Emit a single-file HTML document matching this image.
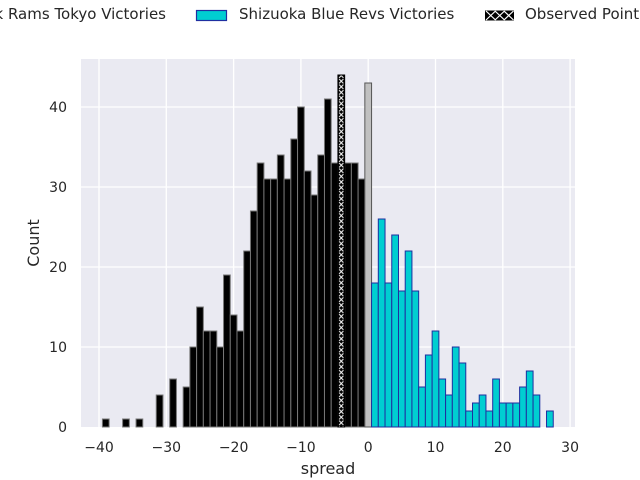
<!DOCTYPE html>
<html><head><meta charset="utf-8"><style>
html,body{margin:0;padding:0;background:#fff;}
svg{display:block;font-family:"DejaVu Sans","Liberation Sans",sans-serif;}
</style></head><body>
<svg width="640" height="480" viewBox="0 0 640 480" xmlns="http://www.w3.org/2000/svg">
<defs>
<pattern id="h" x="337.92" y="0" width="6.729" height="5.6" patternUnits="userSpaceOnUse">
<rect width="6.729" height="5.6" fill="#000"/>
<path d="M1.2,0.6 L5.5,5 M5.5,0.6 L1.2,5" stroke="#fff" stroke-width="1"/>
</pattern>
</defs>
<rect x="81" y="59" width="494" height="368" fill="#eaeaf2"/>
<g stroke="#fff" stroke-width="1.3">
<line x1="99" y1="59" x2="99" y2="427"/><line x1="166.3" y1="59" x2="166.3" y2="427"/>
<line x1="233.6" y1="59" x2="233.6" y2="427"/><line x1="300.9" y1="59" x2="300.9" y2="427"/>
<line x1="368.2" y1="59" x2="368.2" y2="427"/><line x1="435.5" y1="59" x2="435.5" y2="427"/>
<line x1="502.8" y1="59" x2="502.8" y2="427"/><line x1="570.1" y1="59" x2="570.1" y2="427"/>
<line x1="81" y1="107" x2="575" y2="107"/><line x1="81" y1="187" x2="575" y2="187"/>
<line x1="81" y1="267" x2="575" y2="267"/><line x1="81" y1="347" x2="575" y2="347"/>
</g>
<g fill="#000" stroke="#777" stroke-width="1">
<rect x="102.41" y="419" width="6.73" height="8"/>
<rect x="122.60" y="419" width="6.73" height="8"/>
<rect x="136.05" y="419" width="6.73" height="8"/>
<rect x="156.24" y="395" width="6.73" height="32"/>
<rect x="169.70" y="379" width="6.73" height="48"/>
<rect x="183.16" y="387" width="6.73" height="40"/>
<rect x="189.89" y="347" width="6.73" height="80"/>
<rect x="196.62" y="307" width="6.73" height="120"/>
<rect x="203.34" y="331" width="6.73" height="96"/>
<rect x="210.07" y="331" width="6.73" height="96"/>
<rect x="216.80" y="347" width="6.73" height="80"/>
<rect x="223.53" y="275" width="6.73" height="152"/>
<rect x="230.26" y="315" width="6.73" height="112"/>
<rect x="236.99" y="331" width="6.73" height="96"/>
<rect x="243.72" y="251" width="6.73" height="176"/>
<rect x="250.45" y="211" width="6.73" height="216"/>
<rect x="257.18" y="163" width="6.73" height="264"/>
<rect x="263.91" y="179" width="6.73" height="248"/>
<rect x="270.64" y="179" width="6.73" height="248"/>
<rect x="277.36" y="155" width="6.73" height="272"/>
<rect x="284.09" y="179" width="6.73" height="248"/>
<rect x="290.82" y="139" width="6.73" height="288"/>
<rect x="297.55" y="107" width="6.73" height="320"/>
<rect x="304.28" y="171" width="6.73" height="256"/>
<rect x="311.01" y="195" width="6.73" height="232"/>
<rect x="317.74" y="155" width="6.73" height="272"/>
<rect x="324.47" y="99" width="6.73" height="328"/>
<rect x="331.20" y="163" width="6.73" height="264"/>
<rect x="344.65" y="163" width="6.73" height="264"/>
<rect x="351.38" y="163" width="6.73" height="264"/>
<rect x="358.11" y="179" width="6.73" height="248"/>
</g>
<rect x="337.92" y="75" width="6.73" height="352" fill="url(#h)" stroke="#000" stroke-width="1"/>
<rect x="364.84" y="83" width="6.73" height="344" fill="#c0c0c0" stroke="#555" stroke-width="1"/>
<g fill="#00ced1" stroke="#1f2fa0" stroke-width="1">
<rect x="371.57" y="283" width="6.73" height="144"/>
<rect x="378.30" y="219" width="6.73" height="208"/>
<rect x="385.03" y="283" width="6.73" height="144"/>
<rect x="391.76" y="235" width="6.73" height="192"/>
<rect x="398.49" y="291" width="6.73" height="136"/>
<rect x="405.21" y="251" width="6.73" height="176"/>
<rect x="411.94" y="291" width="6.73" height="136"/>
<rect x="418.67" y="387" width="6.73" height="40"/>
<rect x="425.40" y="355" width="6.73" height="72"/>
<rect x="432.13" y="331" width="6.73" height="96"/>
<rect x="438.86" y="379" width="6.73" height="48"/>
<rect x="445.59" y="395" width="6.73" height="32"/>
<rect x="452.32" y="347" width="6.73" height="80"/>
<rect x="459.05" y="363" width="6.73" height="64"/>
<rect x="465.78" y="411" width="6.73" height="16"/>
<rect x="472.50" y="403" width="6.73" height="24"/>
<rect x="479.23" y="395" width="6.73" height="32"/>
<rect x="485.96" y="411" width="6.73" height="16"/>
<rect x="492.69" y="379" width="6.73" height="48"/>
<rect x="499.42" y="403" width="6.73" height="24"/>
<rect x="506.15" y="403" width="6.73" height="24"/>
<rect x="512.88" y="403" width="6.73" height="24"/>
<rect x="519.61" y="387" width="6.73" height="40"/>
<rect x="526.34" y="371" width="6.73" height="56"/>
<rect x="533.07" y="395" width="6.73" height="32"/>
<rect x="546.52" y="411" width="6.73" height="16"/>
</g>
<g font-size="14" fill="#262626" text-anchor="middle">
<text x="99" y="452">−40</text><text x="166.3" y="452">−30</text><text x="233.6" y="452">−20</text>
<text x="300.9" y="452">−10</text><text x="368.2" y="452">0</text><text x="435.5" y="452">10</text>
<text x="502.8" y="452">20</text><text x="570.1" y="452">30</text>
</g>
<g font-size="14" fill="#262626" text-anchor="end">
<text x="67" y="432">0</text><text x="67" y="352">10</text><text x="67" y="272">20</text>
<text x="67" y="192">30</text><text x="67" y="112">40</text>
</g>
<text x="328" y="474" font-size="16" fill="#262626" text-anchor="middle">spread</text>
<text x="0" y="0" font-size="16" fill="#262626" text-anchor="middle" transform="translate(39,243) rotate(-90)">Count</text>
<g font-size="15" fill="#262626">
<text x="166" y="19" text-anchor="end">Black Rams Tokyo Victories</text>
<rect x="196.5" y="10.5" width="30" height="10" fill="#00ced1" stroke="#1f2fa0" stroke-width="1.2"/>
<text x="239" y="19">Shizuoka Blue Revs Victories</text>
<rect x="485" y="10.5" width="29" height="10" fill="#000"/>
<path d="M486,11 L495.5,20 M495.5,11 L486,20 M495,11 L504.5,20 M504.5,11 L495,20 M504,11 L513.5,20 M513.5,11 L504,20" stroke="#fff" stroke-width="1.2"/>
<text x="525" y="19">Observed Point</text>
</g>
</svg>
</body></html>
